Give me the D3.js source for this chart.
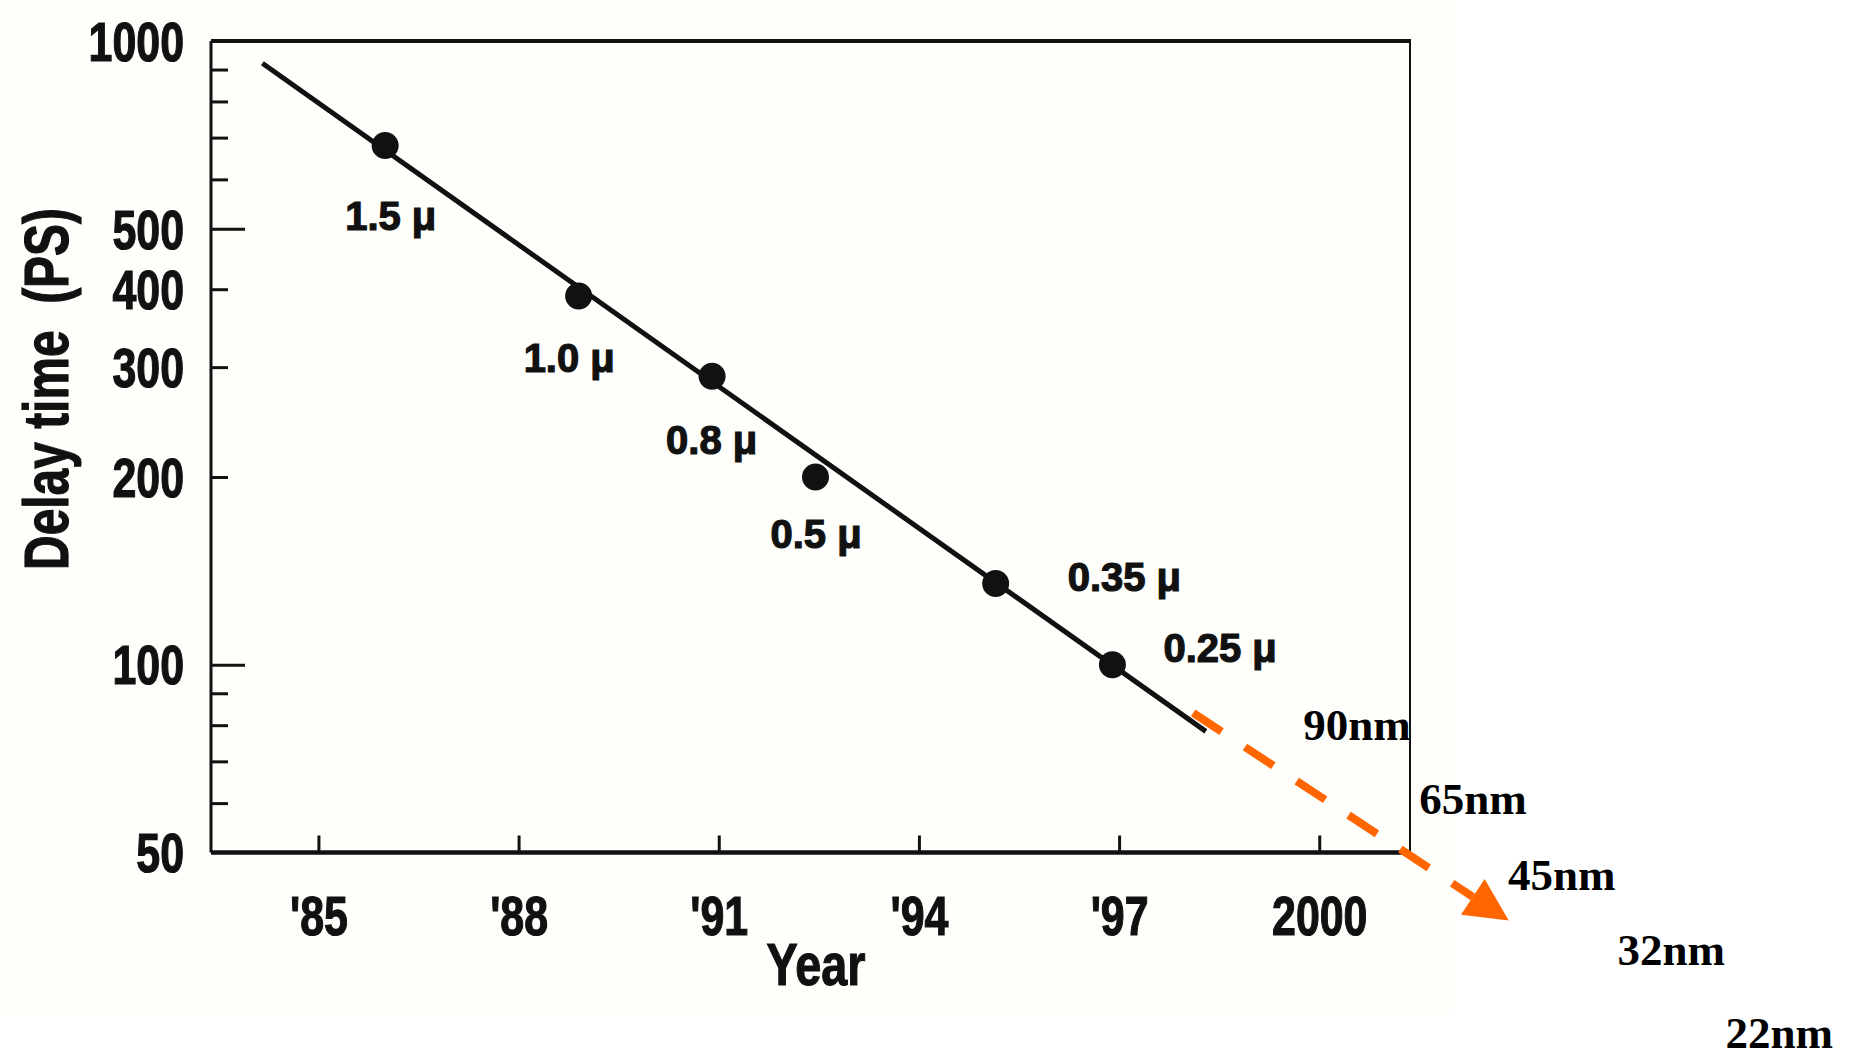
<!DOCTYPE html>
<html>
<head>
<meta charset="utf-8">
<script src="https://cdn.jsdelivr.net/npm/d3@7"></script>
<style>
  html, body { margin: 0; padding: 0; background: #ffffff; }
  svg { display: block; }
  .sans { font-family: "Liberation Sans", Arial, sans-serif; font-weight: bold; fill: #111; stroke: #111; stroke-width: 1.2px; }
  .serif { font-family: "Liberation Serif", "Times New Roman", serif; font-weight: bold; fill: #000; }
</style>
</head>
<body>
<svg id="chart" width="1857" height="1057"></svg>
<script>
// Gate delay by process generation
const years = [1986.0, 1988.9, 1990.9, 1992.45, 1995.15, 1996.9];
const delays = [680, 390, 290, 200, 135, 100];
const nodeLabels = ["1.5 \u03bc", "1.0 \u03bc", "0.8 \u03bc", "0.5 \u03bc", "0.35 \u03bc", "0.25 \u03bc"];

// Fitted trend (straight line on the log axis)
const trendYears = [1984.16, 1998.3];
const trendDelays = [921, 78.2];

// Extrapolation beyond the data
const projYears = [1998.11, 2002.84];
const projDelays = [83.7, 38.9];
const futureNodes = ["90nm", "65nm", "45nm", "32nm", "22nm"];
const futureYears = [1999.76, 2001.50, 2002.83, 2004.47, 2006.09];
const futureDelays = [75.7, 57.6, 43.5, 33.0, 24.3];

// Axis ticks
const yearTicks = [1985, 1988, 1991, 1994, 1997, 2000];
const yearTickLabels = ["'85", "'88", "'91", "'94", "'97", "2000"];
const delayTicks = [50, 100, 200, 300, 400, 500, 1000];
const delayMinorTicks = [60, 70, 80, 90, 200, 300, 400, 600, 700, 800, 900];
const delayMajorTicks = [100, 500];

// Label placement relative to each point (layout only)
const labelOffsets = [[-40, 85], [-55, 76], [-46, 78], [-45, 71], [72, 8], [51, -3]];

const svg = d3.select("#chart");
const plot = { left: 211, right: 1410, top: 41, bottom: 852.5 };
const squeeze = 0.78;   // condensed axis lettering

const x = d3.scaleLinear().domain([1983.39, 2001.36]).range([plot.left, plot.right]);
const y = d3.scaleLog().domain([50, 1000]).range([plot.bottom, plot.top]);

// faint paper tone of the printed figure
svg.append("rect").attr("x", 0).attr("y", 0).attr("width", 1453).attr("height", 1013)
  .attr("fill", "#fefefb");

// frame
const frame = svg.append("g").attr("stroke", "#111").attr("fill", "none");
frame.append("line").attr("x1", plot.left).attr("x2", plot.right + 1).attr("y1", plot.top).attr("y2", plot.top).attr("stroke-width", 4);
frame.append("line").attr("x1", plot.left).attr("x2", plot.right + 1).attr("y1", plot.bottom).attr("y2", plot.bottom).attr("stroke-width", 4.5);
frame.append("line").attr("x1", plot.left).attr("x2", plot.left).attr("y1", plot.top).attr("y2", plot.bottom).attr("stroke-width", 3);
frame.append("line").attr("x1", plot.right).attr("x2", plot.right).attr("y1", plot.top).attr("y2", plot.bottom).attr("stroke-width", 2);

// y ticks (inward)
function tickOnly(axis, g) {
  g.call(axis);
  g.select(".domain").remove();
  g.selectAll("line").attr("stroke", "#111").attr("stroke-width", 3);
  g.selectAll("text").remove();
}
tickOnly(d3.axisRight(y).tickValues(delayMinorTicks).tickSize(17),
  svg.append("g").attr("transform", `translate(${plot.left},0)`));
tickOnly(d3.axisRight(y).tickValues(delayMajorTicks).tickSize(34),
  svg.append("g").attr("transform", `translate(${plot.left},0)`));

// y labels
const yLab = svg.append("g").attr("transform", `translate(${plot.left},0)`)
  .call(d3.axisLeft(y).tickValues(delayTicks).tickSize(0).tickFormat(d3.format("d")));
yLab.select(".domain").remove();
yLab.selectAll("text")
  .attr("class", "sans")
  .style("font-size", "55px")
  .attr("x", -27 / squeeze)
  .attr("dy", "0.35em")
  .attr("transform", `scale(${squeeze},1)`);

// x ticks (inward) and labels
tickOnly(d3.axisTop(x).tickValues(yearTicks).tickSize(17),
  svg.append("g").attr("transform", `translate(0,${plot.bottom})`));
const xLab = svg.append("g").attr("transform", `translate(0,${plot.bottom})`)
  .call(d3.axisBottom(x).tickValues(yearTicks).tickSize(0)
    .tickFormat((d, i) => yearTickLabels[i]));
xLab.select(".domain").remove();
xLab.selectAll("text")
  .attr("class", "sans")
  .style("font-size", "55px")
  .attr("y", 82.5)
  .attr("dy", 0)
  .attr("transform", `scale(${squeeze},1)`)
  .attr("x", 0);

// axis titles
svg.append("text").attr("class", "sans")
  .attr("transform", `translate(816,985) scale(${squeeze},1)`)
  .attr("text-anchor", "middle")
  .style("font-size", "60px")
  .text("Year");
svg.append("text").attr("class", "sans")
  .attr("transform", `translate(68,389) rotate(-90) scale(0.76,1)`)
  .attr("text-anchor", "middle")
  .style("font-size", "63px")
  .text("Delay time \u00a0(PS)");

// trend line
const line = d3.line().x(d => x(d[0])).y(d => y(d[1]));
svg.append("path")
  .datum(trendYears.map((t, i) => [t, trendDelays[i]]))
  .attr("d", line)
  .attr("fill", "none")
  .attr("stroke", "#111")
  .attr("stroke-width", 5);

// data points
const pts = years.map((t, i) => ({ year: t, delay: delays[i], label: nodeLabels[i], off: labelOffsets[i] }));
svg.append("g").selectAll("circle").data(pts).join("circle")
  .attr("cx", d => x(d.year))
  .attr("cy", d => y(d.delay))
  .attr("r", 13.5)
  .attr("fill", "#111");
svg.append("g").selectAll("text").data(pts).join("text")
  .attr("class", "sans")
  .style("font-size", "40px")
  .attr("x", d => x(d.year) + d.off[0])
  .attr("y", d => y(d.delay) + d.off[1])
  .text(d => d.label);

// projected trend: dashed orange arrow
const p0 = [x(projYears[0]), y(projDelays[0])];
const p1 = [x(projYears[1]), y(projDelays[1])];
const len = Math.hypot(p1[0] - p0[0], p1[1] - p0[1]);
const u = [(p1[0] - p0[0]) / len, (p1[1] - p0[1]) / len];
const n = [-u[1], u[0]];
const headLen = 43, headHalf = 21.5;
const base = [p1[0] - u[0] * headLen, p1[1] - u[1] * headLen];
svg.append("line")
  .attr("x1", p0[0]).attr("y1", p0[1])
  .attr("x2", base[0]).attr("y2", base[1])
  .attr("stroke", "#ff6600")
  .attr("stroke-width", 8)
  .attr("stroke-dasharray", "34 28");
svg.append("path")
  .attr("d", d3.line()([
    p1,
    [base[0] + n[0] * headHalf, base[1] + n[1] * headHalf],
    [base[0] - n[0] * headHalf, base[1] - n[1] * headHalf]
  ]) + "Z")
  .attr("fill", "#ff6600");

// future process nodes
svg.append("g").selectAll("text")
  .data(futureNodes.map((s, i) => ({ label: s, year: futureYears[i], delay: futureDelays[i] })))
  .join("text")
  .attr("class", "serif")
  .style("font-size", "45px")
  .attr("x", d => x(d.year))
  .attr("y", d => y(d.delay))
  .text(d => d.label);
</script>
</body>
</html>
